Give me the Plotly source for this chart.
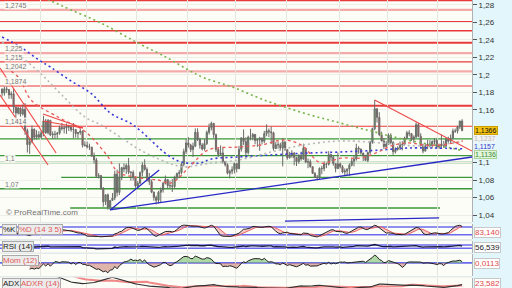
import numpy as np
import pandas as pd
import plotly.graph_objects as go
from plotly.subplots import make_subplots

# ---------------- data (EUR/USD daily, 8 Jan - 15 Oct 2015) ----------------
start_date, end_date = "2015-01-08", "2015-10-15"
first_open = 1.1840
close = [1.1794,1.1842,1.1834,1.1773,1.1785,1.1632,1.1566,1.1622,1.1553,1.1607,1.1366,1.1204,1.1243,1.1381,1.1288,1.1318,1.1290,
 1.1338,1.1475,1.1340,1.1481,1.1315,1.1324,1.1322,1.1334,1.1400,1.1388,1.1395,1.1410,1.1405,1.1375,1.1378,1.1330,1.1343,1.1358,1.1197,1.1197,
 1.1180,1.1175,1.1073,1.1030,1.0842,1.0850,1.0700,1.0550,1.0630,1.0490,1.0567,1.0595,1.0867,1.0658,1.0822,1.0941,1.0925,1.0967,1.0888,1.0886,1.0833,1.0731,
 1.0763,1.0887,1.0970,1.0922,1.0811,1.0781,1.0661,1.0600,1.0568,1.0660,1.0686,1.0763,1.0806,1.0738,1.0735,1.0726,1.0823,1.0873,1.0887,1.0980,1.1125,1.1224,
 1.1199,1.1148,1.1187,1.1346,1.1262,1.1199,1.1154,1.1216,1.1345,1.1400,1.1448,1.1318,1.1148,1.1092,1.1109,1.1013,1.0975,1.0878,1.0900,1.0919,1.0988,
 1.0929,1.1151,1.1281,1.1241,1.1113,1.1290,1.1289,1.1321,1.1251,1.1260,1.1280,1.1243,1.1330,1.1364,1.1350,1.1340,1.1160,1.1202,1.1204,1.1165,1.1235,1.1147,
 1.1055,1.1088,1.1107,1.1057,1.1009,1.1080,1.1039,1.1164,1.1003,1.1009,1.0951,1.0875,1.0830,1.0826,1.0933,1.0930,1.0982,1.0980,1.1090,1.1061,1.0989,1.0931,1.0985,
 1.0953,1.0891,1.0903,1.0925,1.0969,1.1015,1.1040,1.1165,1.1153,1.1108,1.1079,1.1024,1.1115,1.1233,1.1387,1.1615,1.1516,1.1317,1.1245,1.1182,1.1211,
 1.1312,1.1228,1.1122,1.1150,1.1168,1.1202,1.1209,1.1279,1.1339,1.1330,1.1265,1.1292,1.1433,1.1300,1.1193,1.1130,1.1188,1.1210,1.1193,1.1240,1.1251,1.1177,
 1.1194,1.1211,1.1190,1.1265,1.1244,1.1279,1.1359,1.1358,1.1406,1.1474,1.1366]
high = [1.1845,1.1866,1.1868,1.1840,1.1813,1.1839,1.1636,1.1640,1.1631,1.1661,1.1679,1.1387,1.1269,1.1423,1.1388,1.1370,1.1357,
 1.1362,1.1534,1.1498,1.1497,1.1488,1.1355,1.1363,1.1350,1.1421,1.1451,1.1421,1.1446,1.1430,1.1426,1.1451,1.1370,1.1350,1.1389,1.1366,1.1242,
 1.1238,1.1216,1.1180,1.1114,1.1052,1.0879,1.0858,1.0720,1.0637,1.0645,1.0569,1.0651,1.0907,1.0920,1.0990,1.0950,1.0990,1.0989,1.1052,1.0902,1.0910,1.0840,
 1.0788,1.0896,1.1002,1.1037,1.0945,1.0880,1.0806,1.0668,1.0621,1.0676,1.0714,1.0779,1.0851,1.0808,1.0792,1.0812,1.0849,1.0885,1.0915,1.0992,1.1158,1.1268,
 1.1290,1.1213,1.1228,1.1390,1.1391,1.1283,1.1222,1.1267,1.1366,1.1445,1.1467,1.1450,1.1330,1.1164,1.1195,1.1172,1.1009,1.0990,1.0918,1.0957,1.1000,
 1.0996,1.1190,1.1290,1.1379,1.1288,1.1307,1.1385,1.1337,1.1325,1.1274,1.1294,1.1284,1.1361,1.1436,1.1389,1.1410,1.1352,1.1233,1.1240,1.1226,1.1279,1.1242,
 1.1147,1.1121,1.1140,1.1120,1.1066,1.1096,1.1124,1.1215,1.1130,1.1046,1.1035,1.0955,1.0890,1.0858,1.0944,1.0962,1.1012,1.0999,1.1129,1.1099,1.1075,1.0995,1.1114,
 1.1000,1.0970,1.0933,1.0932,1.0990,1.1044,1.1075,1.1214,1.1186,1.1160,1.1112,1.1088,1.1124,1.1249,1.1398,1.1714,1.1616,1.1575,1.1353,1.1281,1.1245,
 1.1333,1.1332,1.1244,1.1173,1.1185,1.1240,1.1244,1.1295,1.1362,1.1369,1.1334,1.1311,1.1460,1.1451,1.1334,1.1216,1.1213,1.1260,1.1255,1.1252,1.1278,1.1272,
 1.1216,1.1318,1.1247,1.1282,1.1295,1.1320,1.1387,1.1387,1.1420,1.1478,1.1495]
low = [1.1754,1.1764,1.1795,1.1727,1.1728,1.1567,1.1460,1.1548,1.1524,1.1536,1.1315,1.1114,1.1098,1.1220,1.1262,1.1262,1.1278,
 1.1270,1.1300,1.1327,1.1320,1.1301,1.1270,1.1270,1.1275,1.1318,1.1366,1.1332,1.1327,1.1360,1.1351,1.1279,1.1285,1.1277,1.1317,1.1171,1.1180,
 1.1160,1.1143,1.1065,1.0988,1.0822,1.0818,1.0690,1.0495,1.0514,1.0462,1.0458,1.0575,1.0570,1.0613,1.0628,1.0798,1.0888,1.0869,1.0866,1.0792,1.0795,1.0712,
 1.0713,1.0751,1.0843,1.0907,1.0780,1.0744,1.0650,1.0563,1.0521,1.0531,1.0537,1.0656,1.0749,1.0706,1.0702,1.0663,1.0700,1.0800,1.0820,1.0866,1.0954,1.1097,
 1.1170,1.1119,1.1063,1.1176,1.1245,1.1157,1.1137,1.1136,1.1200,1.1320,1.1368,1.1280,1.1120,1.1062,1.1090,1.0990,1.0954,1.0863,1.0819,1.0866,1.0875,
 1.0886,1.0924,1.1124,1.1201,1.1049,1.1092,1.1254,1.1255,1.1208,1.1178,1.1133,1.1206,1.1222,1.1300,1.1290,1.1210,1.1135,1.1152,1.1157,1.1135,1.0955,1.1133,
 1.1032,1.1044,1.1053,1.0968,1.0960,1.0987,1.1020,1.1031,1.0999,1.0935,1.0942,1.0872,1.0826,1.0809,1.0813,1.0866,1.0900,1.0936,1.0965,1.1017,1.0964,1.0887,1.0924,
 1.0932,1.0876,1.0848,1.0858,1.0848,1.0955,1.0956,1.1021,1.1100,1.1089,1.1017,1.1017,1.1003,1.1089,1.1214,1.1370,1.1455,1.1300,1.1247,1.1156,1.1175,
 1.1200,1.1206,1.1087,1.1102,1.1135,1.1142,1.1138,1.1195,1.1272,1.1300,1.1247,1.1225,1.1280,1.1289,1.1183,1.1105,1.1127,1.1152,1.1171,1.1162,1.1200,1.1161,
 1.1155,1.1160,1.1167,1.1175,1.1225,1.1211,1.1264,1.1339,1.1331,1.1381,1.1357]

# moving averages (bar index, price)
ma20_idx = [1.7, 7.4, 12.6, 24.3, 35.2, 40, 46.1, 50.4, 60.4, 67.8, 73.5, 82.2, 89.6, 102.6, 112.6, 122.6, 130, 138.7, 147.4, 156.1, 163.5, 169.1, 176.5, 183.5, 190.9, 200.4]
ma20_val = [1.2080, 1.1966, 1.1714, 1.1520, 1.1371, 1.1257, 1.1063, 1.0891, 1.0823, 1.0800, 1.0766, 1.0971, 1.1143, 1.1177, 1.1200, 1.1257, 1.1200, 1.0994, 1.1051, 1.1051, 1.1120, 1.1189, 1.1223, 1.1200, 1.1200, 1.1246]
ma50_idx = [0, 8, 17, 26, 36, 43, 52, 60, 69, 75, 79, 91, 103, 117, 131, 147, 165, 182, 200]
ma50_val = [1.2377, 1.2217, 1.2011, 1.1771, 1.1520, 1.1429, 1.1280, 1.1143, 1.1029, 1.0971, 1.0949, 1.0994, 1.1029, 1.1120, 1.1200, 1.1246, 1.1223, 1.1189, 1.1237]
ma100_idx = [0, 8, 16, 21, 30, 39, 47, 57, 72, 78, 86, 91, 103, 117, 134, 147, 165, 177, 200]
ma100_val = [1.2434, 1.2320, 1.2171, 1.2091, 1.1931, 1.1783, 1.1566, 1.1429, 1.1086, 1.1006, 1.0994, 1.1040, 1.1063, 1.1086, 1.1109, 1.1120, 1.1143, 1.1166, 1.1157]
ma200_idx = [0, 22, 30, 43, 59, 72, 81, 88, 100, 114, 131, 147, 162, 176, 195, 200]
ma200_val = [1.3100, 1.2838, 1.2743, 1.2594, 1.2366, 1.2194, 1.2057, 1.1966, 1.1863, 1.1714, 1.1566, 1.1451, 1.1349, 1.1257, 1.1166, 1.1136]

# horizontal levels
red_levels = [1.2849, 1.2609, 1.2506, 1.2369, 1.2150, 1.1874, 1.1649, 1.1414]
red_widths = [1.2, 1.2, 1.5, 2.0, 1.2, 1.2, 2.0, 1.2]
pink_levels = [1.2745, 1.2250, 1.2042]
green_levels = [1.1269, 1.1078, 1.1000, 1.0700]
green_partial = [(25.7, 1.0831, None), (29.6, 1.0480, 190.4)]
level_labels = ["1,2745", "1,225", "1,215", "1,2042", "1,1874", "1,1414", "1,1", "1,07"]
level_label_vals = [1.2745, 1.225, 1.215, 1.2042, 1.1874, 1.1414, 1.1, 1.07]

# trend lines (bar index, price)
red_trends = [((-0.9, 1.2080), (23.5, 1.1109)), ((-0.9, 1.1771), (20.0, 1.0971)),
              ((17.8, 1.1554), (35.2, 1.1394)), ((17.8, 1.1474), (35.2, 1.1394)),
              ((162.0, 1.1714), (204.3, 1.1131))]
blue_trends = [((47.0, 1.0458), (204.3, 1.1063)), ((47.0, 1.0458), (68.3, 1.0914)),
               ((123.0, 1.0331), (190.0, 1.0366))]

price_ticks = [1.04, 1.06, 1.08, 1.10, 1.16, 1.18, 1.20, 1.22, 1.24, 1.26, 1.28]
# text, value, font colour, background, border, border width, vertical shift (px)
last_labels = [("1,1366", 1.1366, "#111111", "#f5c211", "#c9a000", 1, 0),
               ("1,1237", 1.1237, "#b8b8b8", "#f3f3f3", "#f3f3f3", 0, 3),
               ("1,1157", 1.1157, "#3535c8", "#e6f6fb", "#e6f6fb", 0, 2),
               ("1,1136", 1.1136, "#3a8a3a", "#e3f5da", "#a8d49a", 1, -4)]
stoch_last, rsi_last, mom_last, adx_last = "83,140", "56,539", "0,0113", "23,582"

# ---------------- derived ----------------
dates = pd.bdate_range(start_date, end_date)
n = len(close)
xi = np.arange(n)
C = pd.Series(close); H = pd.Series(high); L = pd.Series(low)
O = pd.Series([first_open] + close[:-1])
H = pd.concat([H, O, C], axis=1).max(axis=1)
L = pd.concat([L, O, C], axis=1).min(axis=1)

ll = L.rolling(14, min_periods=1).min(); hh = H.rolling(14, min_periods=1).max()
k = (100 * (C - ll) / (hh - ll)).rolling(3, min_periods=1).mean()
d = k.rolling(5, min_periods=1).mean()
delta = C.diff()
up = delta.clip(lower=0); dn = (-delta).clip(lower=0)
rs = up.ewm(alpha=1/14, adjust=False).mean() / dn.ewm(alpha=1/14, adjust=False).mean()
rsi = 100 - 100 / (1 + rs)
mom = C - C.shift(12)
pc = C.shift(1)
tr = pd.concat([H - L, (H - pc).abs(), (L - pc).abs()], axis=1).max(axis=1)
upm = H.diff(); dnm = -L.diff()
pdm = pd.Series(np.where((upm > dnm) & (upm > 0), upm, 0.0))
ndm = pd.Series(np.where((dnm > upm) & (dnm > 0), dnm, 0.0))
atr = tr.ewm(alpha=1/14, adjust=False).mean()
pdi = 100 * pdm.ewm(alpha=1/14, adjust=False).mean() / atr
ndi = 100 * ndm.ewm(alpha=1/14, adjust=False).mean() / atr
dx = 100 * (pdi - ndi).abs() / (pdi + ndi)
adx = dx.ewm(alpha=1/14, adjust=False).mean()
adx[:6] = np.nan
adxr = (adx + adx.shift(14)) / 2

month_pos = [i - 0.5 for i in range(1, n) if dates[i].month != dates[i - 1].month]

# ---------------- figure ----------------
W, Hh = 512, 288
XR = [-0.9, 204.3]
def dom(top, bot):
    return [1 - bot / Hh, 1 - top / Hh]

fig = make_subplots(rows=5, cols=1, shared_xaxes=True, vertical_spacing=0.01)

fig.add_trace(go.Candlestick(x=xi, open=O, high=H, low=L, close=C,
    increasing=dict(fillcolor="#4fae4f", line=dict(color="#6b6b6b", width=1)),
    decreasing=dict(fillcolor="#c0504d", line=dict(color="#6b6b6b", width=1)),
    whiskerwidth=0, hoverinfo="skip"), row=1, col=1)

for ix, val, col, dash, w in [(ma200_idx, ma200_val, "#78b450", "2px,3px", 1.6),
                              (ma100_idx, ma100_val, "#3a3ad8", "2px,3px", 1.6),
                              (ma50_idx, ma50_val, "#b8b8b8", "2px,3px", 1.6),
                              (ma20_idx, ma20_val, "#e85a5a", "3px,3px", 1.3)]:
    fig.add_trace(go.Scatter(x=ix, y=val, mode="lines", line=dict(color=col, dash=dash, width=w, shape="spline"),
                             hoverinfo="skip"), row=1, col=1)

for (a, b) in red_trends:
    fig.add_trace(go.Scatter(x=[a[0], b[0]], y=[a[1], b[1]], mode="lines",
                             line=dict(color="#ee4444", width=1.1), hoverinfo="skip"), row=1, col=1)
for (a, b) in blue_trends:
    fig.add_trace(go.Scatter(x=[a[0], b[0]], y=[a[1], b[1]], mode="lines",
                             line=dict(color="#2828c8", width=1.3), hoverinfo="skip"), row=1, col=1)

shapes = []
shapes.append(dict(type="rect", xref="paper", yref="paper", x0=472 / W, x1=1, y0=0, y1=1,
                   fillcolor="#e2f6fb", line=dict(width=0), layer="below"))
for lv, w in zip(red_levels, red_widths):
    shapes.append(dict(type="line", xref="x domain", yref="y", x0=0, x1=1, y0=lv, y1=lv,
                       line=dict(color="#e83a3a", width=w), layer="below"))
for lv in pink_levels:
    shapes.append(dict(type="line", xref="x domain", yref="y", x0=0, x1=1, y0=lv, y1=lv,
                       line=dict(color="#f5aaaa", width=2.2), layer="below"))
for lv in green_levels:
    shapes.append(dict(type="line", xref="x domain", yref="y", x0=0, x1=1, y0=lv, y1=lv,
                       line=dict(color="#3a983a", width=1.3), layer="below"))
for x0, lv, x1 in green_partial:
    shapes.append(dict(type="line", xref="x", yref="y", x0=x0, x1=(x1 if x1 is not None else XR[1]), y0=lv, y1=lv,
                       line=dict(color="#3a983a", width=1.3), layer="below"))

# stochastic
fig.add_trace(go.Scatter(x=xi, y=d, mode="lines", line=dict(color="#e86060", width=1), hoverinfo="skip"), row=2, col=1)
fig.add_trace(go.Scatter(x=xi, y=k, mode="lines", line=dict(color="#222222", width=1), fill="tonexty",
                         fillcolor="rgba(235,140,140,0.45)", hoverinfo="skip"), row=2, col=1)
# rsi
fig.add_trace(go.Scatter(x=xi, y=rsi, mode="lines", line=dict(color="#1a1a40", width=1.3), hoverinfo="skip"), row=3, col=1)
# momentum
fig.add_trace(go.Scatter(x=xi, y=np.minimum(mom, 0), mode="lines", line=dict(width=0), fill="tozeroy",
                         fillcolor="rgba(196,120,110,0.55)", hoverinfo="skip"), row=4, col=1)
fig.add_trace(go.Scatter(x=xi, y=np.maximum(mom, 0), mode="lines", line=dict(width=0), fill="tozeroy",
                         fillcolor="rgba(120,190,110,0.6)", hoverinfo="skip"), row=4, col=1)
fig.add_trace(go.Scatter(x=xi, y=mom, mode="lines", line=dict(color="#222222", width=1), hoverinfo="skip"), row=4, col=1)
# adx
fig.add_trace(go.Scatter(x=xi, y=adxr, mode="lines", line=dict(color="#f08888", width=2), hoverinfo="skip"), row=5, col=1)
fig.add_trace(go.Scatter(x=xi, y=adx, mode="lines", line=dict(color="#333333", width=1.2), hoverinfo="skip"), row=5, col=1)

for yr, lv in [("y2", 80), ("y2", 20), ("y3", 70), ("y3", 30), ("y4", 0)]:
    shapes.append(dict(type="line", xref="x domain", yref=yr, x0=0, x1=1, y0=lv, y1=lv,
                       line=dict(color="#6a6aee", width=1.6), layer="below"))

anns = []
for t, v in zip(level_labels, level_label_vals):
    anns.append(dict(x=4 / W, xref="paper", y=v, yref="y", text=t, showarrow=False, xanchor="left",
                     yanchor="bottom", font=dict(size=7, color="#777777"), bgcolor="rgba(252,252,246,0.85)",
                     borderpad=0))
anns.append(dict(x=4 / W, xref="paper", y=1 - 212 / Hh, yref="paper", text="© ProRealTime.com", showarrow=False,
                 xanchor="left", yanchor="middle", font=dict(size=8, color="#707070")))
for t, v, fc, bg, bc, bw, ys in last_labels:
    anns.append(dict(x=474 / W, xref="paper", y=v, yref="y", text=t, showarrow=False, xanchor="left",
                     yanchor="middle", yshift=ys, font=dict(size=7, color=fc), bgcolor=bg, bordercolor=bc,
                     borderwidth=bw, borderpad=0))
for t, py, fc in [(stoch_last, 232, "#e04848"), (rsi_last, 247, "#222222"), (mom_last, 263, "#e04848"),
                  (adx_last, 283, "#e04848")]:
    anns.append(dict(x=474 / W, xref="paper", y=1 - py / Hh, yref="paper", text=t, showarrow=False,
                     xanchor="left", yanchor="middle", font=dict(size=8, color=fc), bgcolor="#ffffff",
                     bordercolor="#c8c8c8", borderwidth=1, borderpad=0))
for t, px, py, fc in [("%K", 2, 229, "#222222"), ("%D (14 3 5)", 18, 229, "#e05a5a"),
                      ("RSI (14)", 2, 246, "#222222"), ("Mom (12)", 2, 260, "#e05a5a"),
                      ("ADX", 2, 283, "#222222"), ("ADXR (14)", 20, 283, "#e05a5a")]:
    anns.append(dict(x=px / W, xref="paper", y=1 - py / Hh, yref="paper", text=t, showarrow=False,
                     xanchor="left", yanchor="middle", font=dict(size=8, color=fc), bgcolor="#ececec",
                     bordercolor="#aaaaaa", borderwidth=1, borderpad=0))

fig.update_layout(width=W, height=Hh, margin=dict(l=0, r=0, t=0, b=0), showlegend=False,
                  paper_bgcolor="#e4e9ea", plot_bgcolor="#fdfdf7", separators=",.",
                  font=dict(family="Liberation Sans, Arial, sans-serif", size=8, color="#333333"),
                  shapes=shapes, annotations=anns)
for i in range(1, 6):
    fig.update_xaxes(row=i, col=1, range=XR, domain=[0, 472 / W], tickvals=month_pos, showticklabels=False,
                     ticks="", showgrid=True, gridcolor="#e6e6de", gridwidth=1, zeroline=False,
                     rangeslider=dict(visible=False), fixedrange=True)
fig.update_yaxes(row=1, col=1, domain=dom(0, 222), range=[1.0320, 1.2857], side="right", tickvals=price_ticks,
                 ticks="outside", ticklen=4, tickcolor="#555555", tickfont=dict(size=8, color="#333333"),
                 showgrid=True, gridcolor="#eeeee8", zeroline=False, showline=True, linecolor="#b0b0b0")
fig.update_yaxes(row=2, col=1, domain=dom(223.5, 239), range=[-14, 108])
fig.update_yaxes(row=3, col=1, domain=dom(241, 252.5), range=[-21, 118])
fig.update_yaxes(row=4, col=1, domain=dom(254, 276), range=[-0.115, 0.078])
fig.update_yaxes(row=5, col=1, domain=dom(277.5, 288), range=[15, 50])
for i in range(2, 6):
    fig.update_yaxes(row=i, col=1, showticklabels=False, showgrid=False, zeroline=False, ticks="",
                     showline=True, linecolor="#b0b0b0", side="right")

fig.write_html("out.html")
